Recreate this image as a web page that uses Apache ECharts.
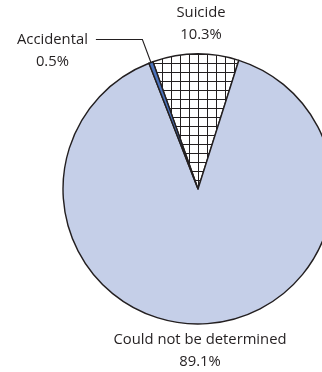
<!DOCTYPE html>
<html>
<head>
<meta charset="utf-8">
<script src="https://cdn.jsdelivr.net/npm/echarts@6/dist/echarts.min.js"></script>
<style>
html,body{margin:0;padding:0;background:#fff;}
#chart{width:322px;height:372px;}
</style>
</head>
<body>
<div id="chart"></div>
<script>
var categories = ['Suicide', 'Could not be determined', 'Accidental'];
var values = [10.3, 89.1, 0.5];
var colors = ['pattern', '#c5cfe8', '#4a72bc'];

function makeGrid() {
  var s = 9;
  var c = document.createElement('canvas');
  c.width = s; c.height = s;
  var ctx = c.getContext('2d');
  ctx.fillStyle = '#ffffff';
  ctx.fillRect(0, 0, s, s);
  ctx.fillStyle = '#231f20';
  ctx.fillRect(0, 0, s, 1);
  ctx.fillRect(0, 0, 1, s);
  return c;
}
var gridPattern = { image: makeGrid(), repeat: 'repeat' };

var textColor = '#231f20';
var font = 'Open Sans';
var fs = 14.8;

var data = categories.map(function (name, i) {
  var item = {
    name: name,
    value: values[i],
    itemStyle: { color: colors[i] === 'pattern' ? gridPattern : colors[i] }
  };
  if (i !== 2) {
    item.label = { position: 'inside' };
    item.labelLine = { show: false };
  } else {
    item.label = { padding: [22, 0, 0, 0] };
  }
  return item;
});

var chart = echarts.init(document.getElementById('chart'), null, { renderer: 'canvas' });
chart.setOption({
  animation: false,
  series: [{
    type: 'pie',
    center: [198, 189],
    radius: 135,
    startAngle: 109.5,
    clockwise: true,
    avoidLabelOverlap: false,
    itemStyle: { borderColor: '#231f20', borderWidth: 1.4 },
    label: {
      show: true,
      position: 'outside',
      bleedMargin: 2,
      distanceToLabelLine: 8,
      color: textColor,
      fontFamily: font,
      fontSize: fs,
      lineHeight: 22,
      formatter: function (p) {
        if (p.dataIndex === 2) {
          return '{t|' + p.name + '}\n{t|' + p.value + '%}';
        }
        return p.name + '\n' + p.value + '%';
      },
      rich: {
        t: { align: 'center', color: textColor, fontFamily: font, fontSize: fs, lineHeight: 22 }
      }
    },
    labelLine: {
      show: true,
      length: 24.5,
      length2: 46.5,
      lineStyle: { color: '#231f20', width: 1.1 }
    },
    labelLayout: function (params) {
      if (params.dataIndex === 0) {
        return { x: 201, y: 24, align: 'center', verticalAlign: 'middle' };
      }
      if (params.dataIndex === 1) {
        return { x: 200, y: 351, align: 'center', verticalAlign: 'middle' };
      }
      return {};
    },
    data: data
  }]
});
</script>
</body>
</html>
